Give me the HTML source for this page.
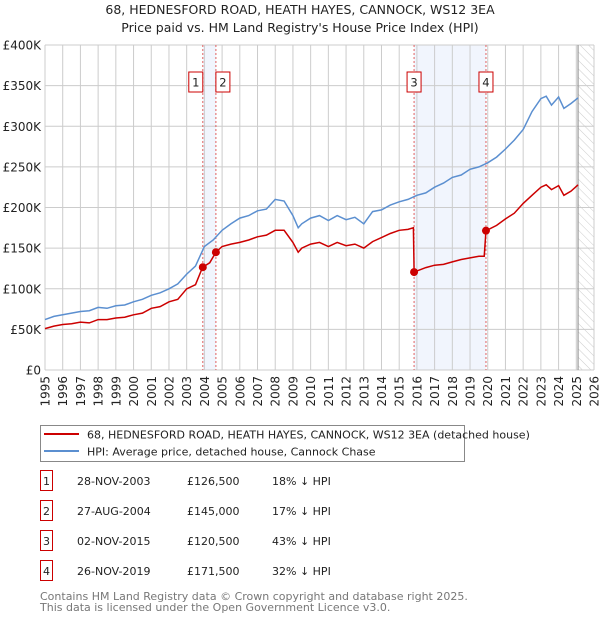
<!DOCTYPE html>
<html><head><meta charset="utf-8"><style>
body{margin:0;background:#fff;font-family:"Liberation Sans","DejaVu Sans",sans-serif;}
#wrap{position:relative;width:600px;height:620px;overflow:hidden;}
svg text{font-family:"DejaVu Sans","Liberation Sans",sans-serif;}
</style></head><body><div id="wrap">
<svg id="chart" width="600" height="620"></svg>
</div>
<script>
const hpiYears=[1995,1995.5,1996,1996.5,1997,1997.5,1998,1998.5,1999,1999.5,2000,2000.5,2001,2001.5,2002,2002.5,2003,2003.5,2004,2004.5,2005,2005.5,2006,2006.5,2007,2007.5,2008,2008.5,2009,2009.3,2009.5,2010,2010.5,2011,2011.5,2012,2012.5,2013,2013.5,2014,2014.5,2015,2015.5,2016,2016.5,2017,2017.5,2018,2018.5,2019,2019.5,2020,2020.5,2021,2021.5,2022,2022.5,2023,2023.3,2023.6,2024,2024.3,2024.7,2025.1];
const hpiValues=[62000,66000,68000,70000,72000,73000,77000,76000,79000,80000,84000,87000,92000,95000,100000,106000,118000,128000,152000,160000,172000,180000,187000,190000,196000,198000,210000,208000,190000,175000,180000,187000,190000,184000,190000,185000,188000,180000,195000,197000,203000,207000,210000,215000,218000,225000,230000,237000,240000,247000,250000,255000,262000,272000,283000,296000,318000,334000,337000,326000,336000,322000,328000,335000];
const ppYears=[1995,1995.5,1996,1996.5,1997,1997.5,1998,1998.5,1999,1999.5,2000,2000.5,2001,2001.5,2002,2002.5,2003,2003.5,2003.9,2004.3,2004.65,2005,2005.5,2006,2006.5,2007,2007.5,2008,2008.5,2009,2009.3,2009.5,2010,2010.5,2011,2011.5,2012,2012.5,2013,2013.5,2014,2014.5,2015,2015.5,2015.8,2015.84,2016.5,2017,2017.5,2018,2018.5,2019,2019.5,2019.8,2019.9,2020.5,2021,2021.5,2022,2022.5,2023,2023.3,2023.6,2024,2024.3,2024.7,2025.1];
const ppValues=[51000,54000,56000,57000,59000,58000,62000,62000,64000,65000,68000,70000,76000,78000,84000,87000,100000,105000,126500,132000,145000,152000,155000,157000,160000,164000,166000,172000,172000,157000,145000,150000,155000,157000,152000,157000,153000,155000,150000,158000,163000,168000,172000,173000,175000,120500,126000,129000,130000,133000,136000,138000,140000,140000,171500,178000,186000,193000,205000,215000,225000,228000,222000,227000,215000,220000,228000];
const saleYears=[2003.91,2004.65,2015.84,2019.9];
const salePrices=[126500,145000,120500,171500];
const saleLabels=["1","2","3","4"];
const yTicks=[0,50000,100000,150000,200000,250000,300000,350000,400000];
const yTickLabels=["£0","£50K","£100K","£150K","£200K","£250K","£300K","£350K","£400K"];
const xTicks=[1995,1996,1997,1998,1999,2000,2001,2002,2003,2004,2005,2006,2007,2008,2009,2010,2011,2012,2013,2014,2015,2016,2017,2018,2019,2020,2021,2022,2023,2024,2025,2026];
const shadeRanges=[[2003.91,2004.65],[2015.84,2019.9]];
const hatchStart=2025.1;

const L=45,R=594,T=45,B=370;
const xs=y=>L+(y-1995)/(2026-1995)*(R-L);
const ys=v=>B-v/400000*(B-T);
const NS="http://www.w3.org/2000/svg";
const svg=document.getElementById('chart');
function mk(tag,attrs,parent){const e=document.createElementNS(NS,tag);for(const k in attrs)e.setAttribute(k,attrs[k]);(parent||svg).appendChild(e);return e;}
const defs=mk('defs',{});
const pat=mk('pattern',{id:'hatch',width:6,height:6,patternUnits:'userSpaceOnUse',patternTransform:'rotate(-45)'},defs);
mk('line',{x1:0,y1:0,x2:0,y2:6,stroke:'#ccc','stroke-width':1},pat);

// title
let t=mk('text',{x:300,y:14,'text-anchor':'middle','font-size':12.5,fill:'#222'});t.textContent='68, HEDNESFORD ROAD, HEATH HAYES, CANNOCK, WS12 3EA';

t=mk('text',{x:300,y:32,'text-anchor':'middle','font-size':12.5,fill:'#222'});t.textContent="Price paid vs. HM Land Registry's House Price Index (HPI)";


shadeRanges.forEach(r=>{const e=mk('rect',{x:xs(r[0]),y:T,width:xs(r[1])-xs(r[0]),height:B-T,fill:'#eef3fc',opacity:0.8});
});
let h=mk('rect',{x:xs(hatchStart),y:T,width:R-xs(hatchStart),height:B-T,fill:'url(#hatch)'});


yTicks.forEach((v,i)=>{const g=mk('line',{x1:L,x2:R,y1:ys(v),y2:ys(v),stroke:'#ccc','stroke-width':1});

const tx=mk('text',{x:L-4,y:ys(v)+4.5,'text-anchor':'end','font-size':12,fill:'#222'});tx.textContent=yTickLabels[i];
});
xTicks.forEach(y=>{const g=mk('line',{x1:xs(y),x2:xs(y),y1:T,y2:B,stroke:'#ccc','stroke-width':1});

const tx=mk('text',{x:0,y:0,'text-anchor':'end','font-size':12,fill:'#222',transform:`translate(${xs(y)+4.5},${B+6}) rotate(-90)`});tx.textContent=y;
});
let hl=mk('line',{x1:xs(hatchStart),x2:xs(hatchStart),y1:T,y2:B,stroke:'#999','stroke-width':1.2});


saleYears.forEach((y,i)=>{const l=mk('line',{x1:xs(y),x2:xs(y),y1:T,y2:B,stroke:'#e06060','stroke-width':1,'stroke-dasharray':'2,2'});
});

function path(xv,yv){return xv.map((x,i)=>(i?'L':'M')+xs(x).toFixed(1)+','+ys(yv[i]).toFixed(1)).join('');}
let p=mk('path',{d:path(hpiYears,hpiValues),fill:'none',stroke:'#5b8fd0','stroke-width':1.5});

p=mk('path',{d:path(ppYears,ppValues),fill:'none',stroke:'#cc0000','stroke-width':1.5});

saleYears.forEach((y,i)=>{const c=mk('circle',{cx:xs(y),cy:ys(salePrices[i]),r:4,fill:'#cc0000'});

const bx=xs(y)-(i==0?14:i==1?0:7);
const r=mk('rect',{x:bx,y:72,width:14,height:20,fill:'#fff',stroke:'#cc0000','stroke-width':1});

const tx=mk('text',{x:bx+7,y:86.5,'text-anchor':'middle','font-size':11.5,fill:'#222'});tx.textContent=saleLabels[i];
});

// legend
let lg=mk('rect',{x:40.5,y:425.5,width:424,height:36,fill:'#fff',stroke:'#888','stroke-width':1});

let ll=mk('line',{x1:44,x2:79,y1:434,y2:434,stroke:'#cc0000','stroke-width':2});
ll=mk('line',{x1:44,x2:79,y1:451,y2:451,stroke:'#5b8fd0','stroke-width':2});
t=mk('text',{x:87,y:438.5,'font-size':11,fill:'#222'});t.textContent='68, HEDNESFORD ROAD, HEATH HAYES, CANNOCK, WS12 3EA (detached house)';

t=mk('text',{x:87,y:455.5,'font-size':11,fill:'#222'});t.textContent='HPI: Average price, detached house, Cannock Chase';


const rowDates=["28-NOV-2003","27-AUG-2004","02-NOV-2015","26-NOV-2019"];
const rowPrices=["£126,500","£145,000","£120,500","£171,500"];
const rowHpi=["18% ↓ HPI","17% ↓ HPI","43% ↓ HPI","32% ↓ HPI"];
rowDates.forEach((d,i)=>{const cy=483+i*30;
const r=mk('rect',{x:40.5,y:cy-12.5,width:12,height:20,fill:'#fff',stroke:'#cc0000','stroke-width':1});

let a=mk('text',{x:46.5,y:cy+2,'text-anchor':'middle','font-size':11,fill:'#222'});a.textContent=saleLabels[i];

a=mk('text',{x:77,y:cy+2,'font-size':11,fill:'#222'});a.textContent=d;
a=mk('text',{x:187,y:cy+2,'font-size':11,fill:'#222'});a.textContent=rowPrices[i];
a=mk('text',{x:272,y:cy+2,'font-size':11,fill:'#222'});a.textContent=rowHpi[i];});

t=mk('text',{x:40,y:600,'font-size':11,fill:'#777'});t.textContent='Contains HM Land Registry data © Crown copyright and database right 2025.';

t=mk('text',{x:40,y:611,'font-size':11,fill:'#777'});t.textContent='This data is licensed under the Open Government Licence v3.0.';

</script></body></html>
